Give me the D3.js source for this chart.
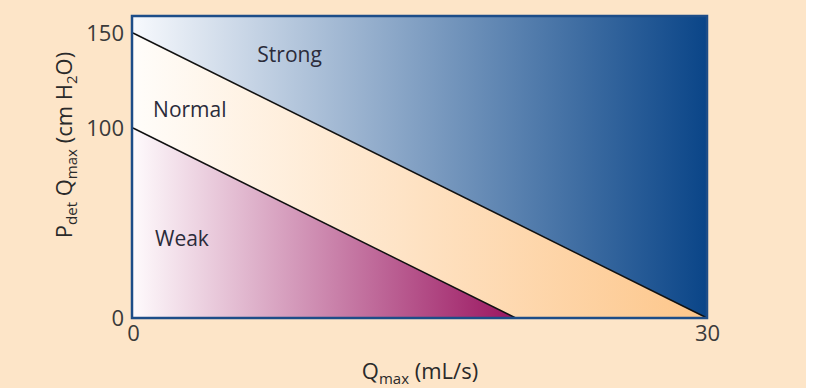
<!DOCTYPE html>
<html>
<head>
<meta charset="utf-8">
<script src="https://cdn.jsdelivr.net/npm/d3@7"></script>
<style>
  html, body { margin: 0; padding: 0; background: #ffffff; }
  svg text { font-family: "Open Sans", sans-serif; }
</style>
</head>
<body>
<div id="chart"></div>
<script>
// axis ticks
var xTicks = [0, 30];
var yTicks = [0, 100, 150];

// zone boundaries (Qmax, PdetQmax)
var strongLine = [[0, 150], [30, 0]];
var weakLine = [[0, 100], [20, 0]];

// zone names and where their label starts
var zones = ["Strong", "Normal", "Weak"];
var zoneLabelAt = [[6.5, 135], [1.05, 106], [1.15, 38]];

var W = 822, H = 392;
var x = d3.scaleLinear().domain([0, 30]).range([133, 707]);
var y = d3.scaleLinear().domain([0, 150]).range([318, 33]);
var yTop = y.invert(16);

var svg = d3.select("#chart").append("svg")
    .attr("width", W)
    .attr("height", H);

// cream card
svg.append("rect")
    .attr("x", 0).attr("y", 0)
    .attr("width", 806).attr("height", 388)
    .attr("fill", "#fde5c8");

var defs = svg.append("defs");
function grad(id, from, to, x2) {
    var g = defs.append("linearGradient")
        .attr("id", id)
        .attr("gradientUnits", "userSpaceOnUse")
        .attr("x1", x(0)).attr("y1", 0)
        .attr("x2", x(x2)).attr("y2", 0);
    g.append("stop").attr("offset", "0%").attr("stop-color", from);
    g.append("stop").attr("offset", "100%").attr("stop-color", to);
}
grad("gStrong", "#f7f9fd", "#0a4588", 30);
grad("gNormal", "#fffdfa", "#fdc68a", 30);
grad("gWeak", "#fefafc", "#9a1560", 20);

var line = d3.line()
    .x(function(d) { return x(d[0]); })
    .y(function(d) { return y(d[1]); });

// zones
var strongPoly = [[0, yTop], [30, yTop], strongLine[1], strongLine[0]];
var normalPoly = [strongLine[0], strongLine[1], weakLine[1], weakLine[0]];
var weakPoly = [weakLine[0], weakLine[1], [0, 0]];

svg.append("path").attr("d", line(strongPoly) + "Z").attr("fill", "url(#gStrong)");
svg.append("path").attr("d", line(normalPoly) + "Z").attr("fill", "url(#gNormal)");
svg.append("path").attr("d", line(weakPoly) + "Z").attr("fill", "url(#gWeak)");

// boundary lines
[strongLine, weakLine].forEach(function(l) {
    svg.append("path")
        .attr("d", line(l))
        .attr("fill", "none")
        .attr("stroke", "#111")
        .attr("stroke-width", 1.5);
});

// frame
svg.append("rect")
    .attr("x", x(0) - 1).attr("y", y(yTop))
    .attr("width", x(30) - x(0) + 1)
    .attr("height", y(0) - y(yTop))
    .attr("fill", "none")
    .attr("stroke", "#1d4d88")
    .attr("stroke-width", 2.5);

// zone labels
zones.forEach(function(z, i) {
    svg.append("text")
        .attr("x", x(zoneLabelAt[i][0]))
        .attr("y", y(zoneLabelAt[i][1]))
        .attr("font-size", "21px")
        .attr("fill", "#2b2b3a")
        .text(z);
});

// axes
var yAxis = svg.append("g")
    .attr("transform", "translate(" + (x(0) - 9) + ",0)")
    .call(d3.axisLeft(y).tickValues(yTicks).tickSize(0).tickPadding(0));
yAxis.select(".domain").remove();
yAxis.selectAll("text")
    .attr("font-size", "22px")
    .attr("font-family", "Open Sans, sans-serif")
    .attr("fill", "#3a3a3a");

var xAxis = svg.append("g")
    .attr("transform", "translate(0," + (y(0) + 7) + ")")
    .call(d3.axisBottom(x).tickValues(xTicks).tickSize(0).tickPadding(0));
xAxis.select(".domain").remove();
xAxis.selectAll("text")
    .attr("font-size", "22px")
    .attr("font-family", "Open Sans, sans-serif")
    .attr("fill", "#3a3a3a");

// axis titles
var xt = svg.append("text")
    .attr("x", 420).attr("y", 379)
    .attr("text-anchor", "middle")
    .attr("font-size", "22px")
    .attr("fill", "#2a2a2a");
xt.append("tspan").text("Q");
xt.append("tspan").attr("font-size", "15px").attr("dy", 5).text("max");
xt.append("tspan").attr("dy", -5).text(" (mL/s)");

var yt = svg.append("text")
    .attr("transform", "translate(72,145) rotate(-90)")
    .attr("text-anchor", "middle")
    .attr("font-size", "22px")
    .attr("fill", "#2a2a2a");
yt.append("tspan").text("P");
yt.append("tspan").attr("font-size", "15px").attr("dy", 5).text("det");
yt.append("tspan").attr("dy", -5).text(" Q");
yt.append("tspan").attr("font-size", "15px").attr("dy", 5).text("max");
yt.append("tspan").attr("dy", -5).text(" (cm H");
yt.append("tspan").attr("font-size", "15px").attr("dy", 5).text("2");
yt.append("tspan").attr("dy", -5).text("O)");
</script>
</body>
</html>
